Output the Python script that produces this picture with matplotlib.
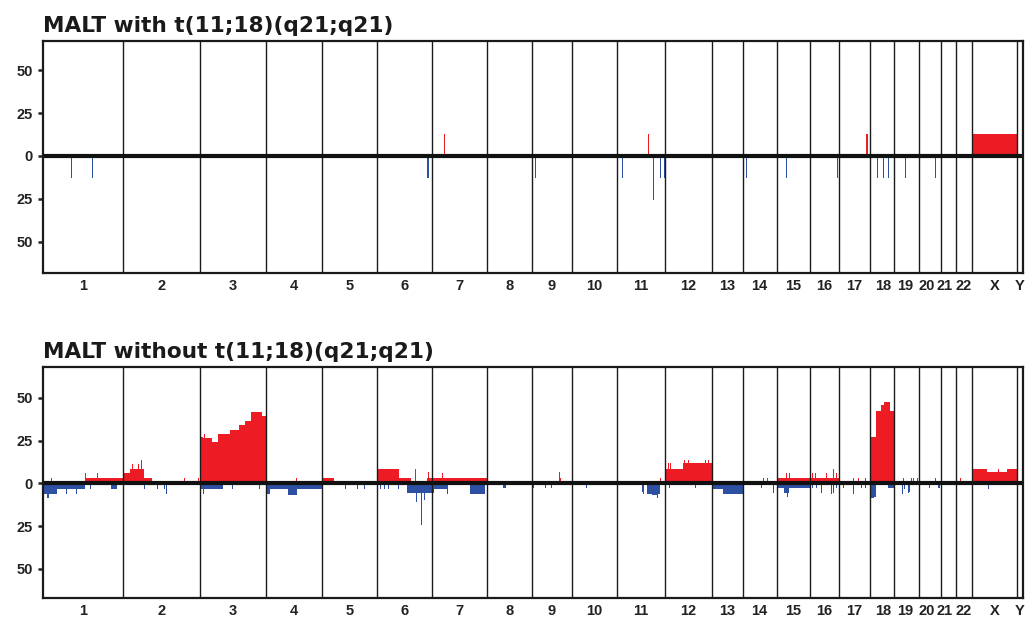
import matplotlib
matplotlib.use("Agg")
import matplotlib.pyplot as plt
import matplotlib.transforms as mtransforms
import numpy as np

# ---------------- data ----------------
chrom_names = ['1', '2', '3', '4', '5', '6', '7', '8', '9', '10', '11', '12',
               '13', '14', '15', '16', '17', '18', '19', '20', '21', '22', 'X', 'Y']
# relative chromosome widths (genome units)
chrom_sizes = [80.6, 77.0, 65.7, 56.0, 55.0, 55.0, 54.7, 45.0, 39.8, 45.5, 48.0, 46.5,
               31.0, 34.0, 33.0, 29.0, 31.5, 24.3, 24.7, 21.7, 15.0, 16.0, 45.1, 6.5]

titles = ['MALT with t(11;18)(q21;q21)', 'MALT without t(11;18)(q21;q21)']

# (start, end, percent) in genome units
top_gains = [
    (400.8, 401.8, 13), (605.5, 606.5, 13), (823.0, 825.0, 13), (929.0, 974.1, 13),
]
top_losses = [
    (28.5, 29.5, 13), (49.5, 50.5, 13), (384.6, 386.6, 13), (492.0, 493.0, 13),
    (579.5, 580.5, 13), (610.2, 611.2, 26), (617.6, 618.6, 13), (621.0, 622.0, 13),
    (703.2, 704.2, 13), (742.9, 743.9, 13), (793.8, 794.8, 13), (834.2, 835.2, 13),
    (840.0, 841.0, 13), (845.0, 846.0, 13), (861.9, 862.9, 13), (891.8, 892.8, 13),
]

bottom_gains = [
    # chr1
    (7.8, 8.8, 3.3), (42.3, 80.6, 3.3), (42.3, 43.3, 6.0), (54.3, 55.3, 6.2),
    # chr2
    (80.6, 87.3, 6.2), (87.3, 101.6, 8.3), (89.6, 90.6, 11.4), (95.3, 96.3, 11.4),
    (97.8, 98.8, 13.4), (101.6, 109.0, 3.3), (141.3, 142.3, 3.3), (155.3, 156.3, 3.3),
    # chr3
    (157.6, 160.3, 27.0), (160.8, 161.8, 29.0), (160.3, 169.3, 26.7), (169.3, 175.6, 23.9),
    (175.6, 187.3, 29.0), (187.3, 196.6, 31.1), (196.6, 202.3, 33.8), (202.3, 208.3, 36.3),
    (208.3, 219.0, 41.6), (219.0, 223.3, 39.5),
    # chr4, chr5
    (253.3, 254.3, 2.9), (279.3, 291.3, 3.3),
    # chr6
    (334.3, 356.3, 8.3), (356.3, 368.3, 3.3), (371.8, 372.8, 8.3), (384.0, 389.0, 3.3),
    (385.3, 386.3, 6.4),
    # chr7
    (389.3, 444.0, 3.3), (399.3, 400.3, 6.2),
    # chr9, chr11
    (516.3, 518.3, 3.3), (516.3, 517.3, 6.4), (617.3, 618.3, 3.3),
    # chr12
    (622.3, 640.0, 8.3), (640.0, 668.8, 11.6), (625.3, 626.3, 11.6), (627.3, 628.3, 11.6),
    (641.3, 642.3, 13.6), (645.3, 646.3, 13.6), (662.3, 663.3, 13.6), (665.3, 666.3, 13.6),
    # chr14
    (719.8, 720.8, 3.3), (724.3, 725.3, 3.3),
    # chr15-16
    (734.0, 795.8, 3.3), (734.3, 735.3, 5.8), (743.3, 744.3, 6.2), (746.3, 747.3, 6.2),
    (768.8, 769.8, 6.2), (772.3, 773.3, 6.2), (782.8, 783.8, 6.2), (790.3, 791.3, 8.3),
    (793.3, 794.3, 6.2),
    # chr17
    (810.3, 811.3, 3.3), (814.8, 815.8, 3.3), (822.3, 823.3, 3.3),
    # chr18
    (827.8, 833.3, 27.2), (833.3, 838.3, 42.3), (838.3, 841.6, 45.6), (841.6, 847.3, 47.5),
    (847.3, 851.6, 42.3),
    # chr19, 20, 22
    (860.1, 861.1, 3.3), (868.5, 869.5, 3.3), (870.1, 871.1, 3.3), (874.5, 875.5, 3.3),
    (891.8, 892.8, 3.3), (913.5, 914.5, 3.3), (916.8, 917.8, 3.3),
    # X
    (929.6, 944.0, 8.3), (944.0, 964.0, 6.4), (955.3, 956.3, 8.3), (964.0, 974.1, 8.3),
]

bottom_losses = [
    # chr1
    (0.6, 4.0, 6.4), (4.0, 6.6, 8.7), (6.6, 14.0, 6.4), (14.0, 42.3, 3.5),
    (23.3, 24.3, 6.0), (33.3, 34.3, 6.2), (47.3, 48.3, 3.5), (68.0, 74.6, 3.5),
    # chr2
    (101.6, 102.6, 3.5), (114.6, 115.6, 3.5), (121.3, 122.3, 3.5), (122.8, 123.8, 6.4),
    # chr3
    (158.3, 180.0, 3.5), (160.0, 161.0, 6.2), (189.6, 190.6, 3.5), (216.3, 217.3, 3.5),
    # chr4
    (224.0, 227.3, 6.4), (227.3, 279.3, 3.5), (245.6, 254.0, 6.8),
    # chr5
    (302.3, 303.3, 3.5), (313.8, 314.8, 3.5), (321.3, 322.3, 3.5),
    # chr6
    (337.3, 338.3, 3.5), (341.6, 342.6, 3.5), (345.6, 346.6, 3.5), (355.0, 356.0, 3.5),
    (364.0, 389.0, 5.8), (373.3, 374.3, 10.7), (378.0, 379.0, 24.3), (381.6, 382.6, 9.7),
    # chr7
    (389.0, 405.6, 3.5), (390.6, 391.6, 5.4), (404.6, 405.6, 6.4), (427.3, 442.3, 6.4),
    # chr8, 9, 10
    (460.6, 463.0, 2.9), (490.3, 491.3, 2.9), (502.3, 503.3, 2.9), (507.8, 508.8, 2.9),
    (543.3, 544.3, 2.9),
    # chr11
    (599.0, 600.0, 4.8), (600.6, 601.6, 6.2), (604.6, 617.3, 6.2), (609.0, 615.6, 6.8),
    (614.3, 615.3, 8.3),
    # chr12, 13
    (626.3, 627.3, 2.9), (652.3, 653.3, 2.9), (668.8, 680.6, 3.5), (680.6, 699.8, 6.4),
    # chr14, 15
    (717.8, 718.8, 2.9), (729.8, 730.8, 5.8), (734.0, 767.3, 2.9), (741.6, 746.3, 5.4),
    (744.0, 745.0, 7.8),
    # chr16
    (768.8, 770.3, 2.9), (772.8, 773.8, 2.9), (777.8, 778.8, 5.8), (788.3, 789.3, 6.2),
    (790.3, 791.3, 5.8), (793.3, 794.3, 2.9),
    # chr17
    (800.3, 801.3, 2.9), (809.8, 810.8, 6.2), (817.8, 818.8, 2.9), (821.8, 822.8, 2.9),
    # chr18
    (827.3, 833.3, 7.8), (828.3, 831.3, 8.3), (845.6, 851.6, 2.9),
    # chr19, 20
    (859.6, 860.6, 6.4), (861.3, 862.3, 3.5), (865.0, 866.0, 5.4), (866.6, 867.6, 4.8),
    (886.3, 887.3, 2.9), (895.0, 897.3, 2.9),
    # X
    (945.0, 946.0, 3.5),
]

ytick_values = [50, 25, 0, -25, -50]
ytick_labels = ['50', '25', '0', '25', '50']

# ---------------- styling ----------------
RED = '#ED1C24'
BLUE = '#2E50A2'
TICK_FONT = ['Liberation Sans', 'DejaVu Sans']
TITLE_FONT = ['DejaVu Sans']
# small horizontal nudges (pixels) so crowded labels don't collide
label_nudge = {'18': 1.5, '19': -1.0, '20': -3.5, '21': -3.5}

W, H = 1027, 625
fig = plt.figure(figsize=(W / 100, H / 100), dpi=100)

def px_axes(left, top, right, bottom):
    return fig.add_axes([left / W, 1 - bottom / H, (right - left) / W, (bottom - top) / H])

ax_top = px_axes(42.7, 40.7, 1023.3, 272.7)
ax_bot = px_axes(42.7, 367.3, 1023.3, 597.7)

bounds = np.concatenate([[0], np.cumsum(chrom_sizes)])
mids = (bounds[:-1] + bounds[1:]) / 2


def draw_panel(ax, gains, losses, ylim):
    g = np.array(gains, dtype=float)
    l = np.array(losses, dtype=float)
    ax.bar(g[:, 0], g[:, 2], width=g[:, 1] - g[:, 0], align='edge',
           color=RED, linewidth=0, zorder=2)
    ax.bar(l[:, 0], -l[:, 2], width=l[:, 1] - l[:, 0], align='edge',
           color=BLUE, linewidth=0, zorder=2)
    for b in bounds[1:-1]:
        ax.axvline(b, color='#1a1a1a', lw=1.0, zorder=3)
    ax.axhline(0, color='#111111', lw=3.0, zorder=4)
    ax.set_xlim(bounds[0], bounds[-1])
    ax.set_ylim(*ylim)
    ax.set_yticks(ytick_values)
    ax.set_yticklabels(ytick_labels, fontsize=10.5, fontweight='bold', family=TICK_FONT,
                       color='#222222')
    ax.set_xticks(mids)
    ax.set_xticklabels(chrom_names, fontsize=10.5, fontweight='bold', family=TICK_FONT,
                       color='#222222')
    ax.tick_params(axis='y', length=3.4, width=1.8, pad=3.8, color='#222222')
    ax.tick_params(axis='x', length=0, pad=4.5)
    for lab in ax.get_xticklabels():
        dx = label_nudge.get(lab.get_text(), 0.0)
        if dx:
            off = mtransforms.ScaledTranslation(dx / 100, 0, fig.dpi_scale_trans)
            lab.set_transform(lab.get_transform() + off)
    for s in ax.spines.values():
        s.set_linewidth(1.6)
        s.set_color('#1a1a1a')
        s.set_zorder(5)


draw_panel(ax_top, top_gains, top_losses, (-68.2, 67.3))
draw_panel(ax_bot, bottom_gains, bottom_losses, (-66.8, 67.8))

fig.text(43 / W, 1 - 31.7 / H, titles[0], fontsize=15.6, fontweight='bold',
         family=TITLE_FONT, va='baseline', ha='left', color='#1a1a1a')
fig.text(43 / W, 1 - 358 / H, titles[1], fontsize=15.6, fontweight='bold',
         family=TITLE_FONT, va='baseline', ha='left', color='#1a1a1a')

fig.savefig('out.png', dpi=100)
